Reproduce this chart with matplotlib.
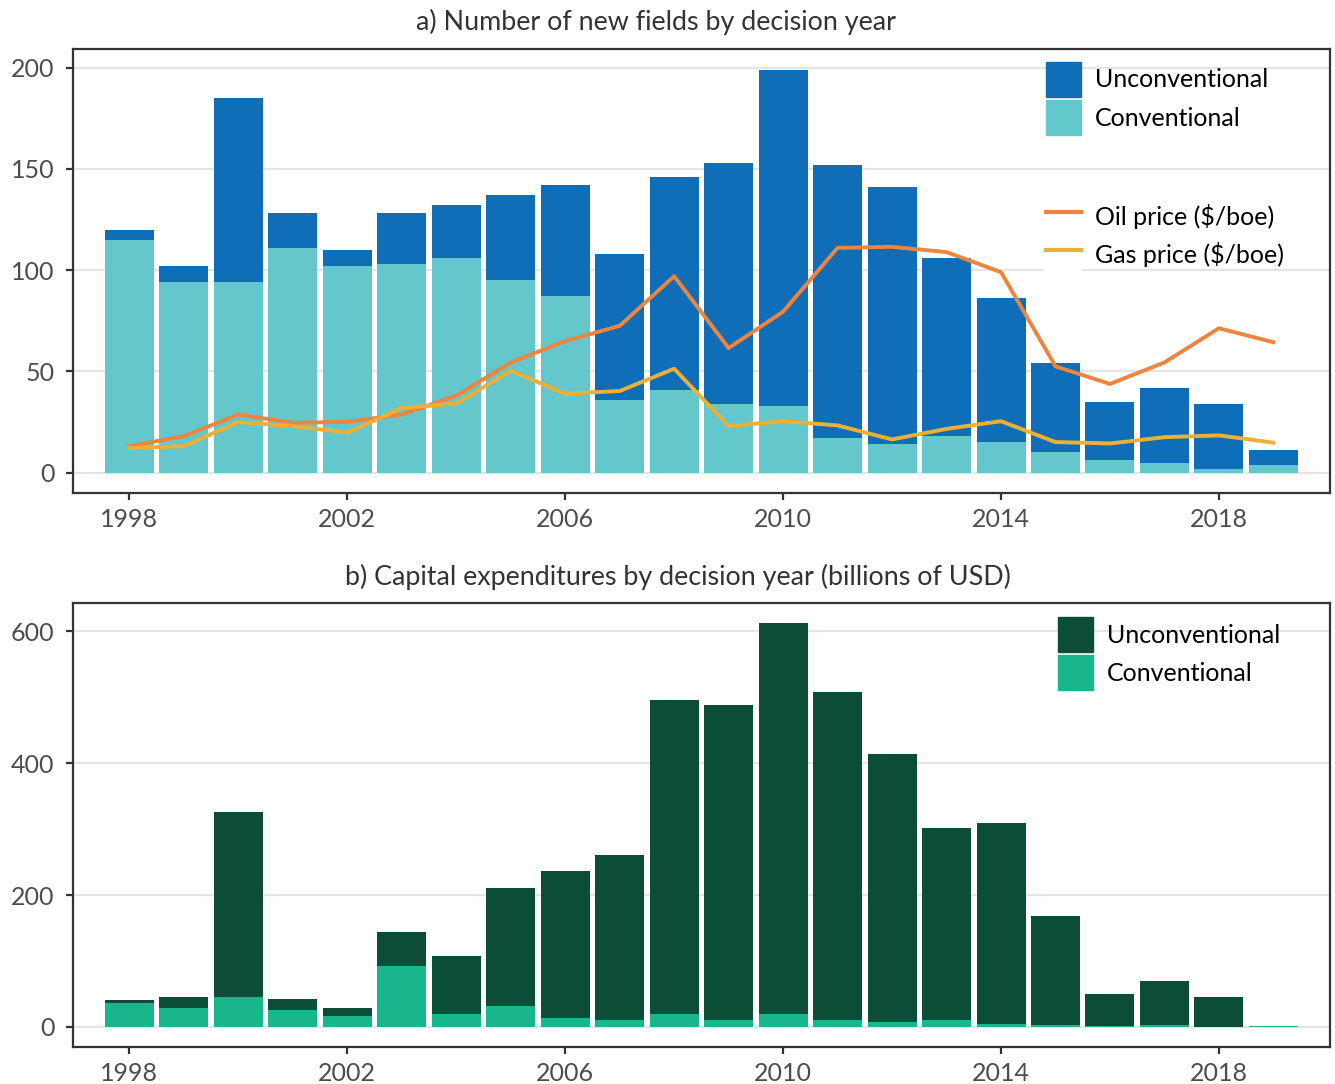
import matplotlib
matplotlib.use("Agg")
import matplotlib.pyplot as plt
from matplotlib.patches import Patch, Rectangle
from matplotlib.lines import Line2D

plt.rcParams['font.family'] = ['Lato', 'DejaVu Sans']

years = [1998, 1999, 2000, 2001, 2002, 2003, 2004, 2005, 2006, 2007, 2008,
         2009, 2010, 2011, 2012, 2013, 2014, 2015, 2016, 2017, 2018, 2019]

# a) number of new fields
fields_conv = [115, 94, 94, 111, 102, 103, 106, 95, 87, 36, 41,
               34, 33, 17, 14, 18, 15, 10, 6, 5, 2, 4]
fields_uncon = [5, 8, 91, 17, 8, 25, 26, 42, 55, 72, 105,
                119, 166, 135, 127, 88, 71, 44, 29, 37, 32, 7]
oil_price = [13.1, 18, 28.7, 24.6, 25.1, 28.7, 38, 54.4, 65, 72.5, 97,
             61.5, 79.5, 111, 111.5, 108.9, 99, 52.5, 43.8, 54.4, 71.3, 64.4]
gas_price = [12.1, 13.1, 24.9, 23, 19.7, 32, 34.1, 50.3, 39, 40.3, 51.3,
             23, 25.4, 23.3, 16.4, 21.6, 25.4, 15.1, 14.4, 17.5, 18.4, 14.8]

# b) capex, billions USD
capex_conv = [37, 29, 46, 26, 17, 93, 20, 32, 14, 11, 20,
              10, 20, 10, 7, 10, 5, 3.5, 2, 3.5, 0.5, 1]
capex_uncon = [4, 17, 280, 17, 12, 51, 88, 178, 223, 250, 476,
               478, 593, 498, 407, 292, 305, 165.5, 48, 66.5, 45.5, 1]

xticks = [1998, 2002, 2006, 2010, 2014, 2018]

c_uncon = '#106EB8'
c_conv = '#63C7CC'
c_oil = '#EE843E'
c_gas = '#EDB035'
c_uncon2 = '#0B4D36'
c_conv2 = '#18B68A'

fig = plt.figure(figsize=(13.35, 10.84), dpi=100)
ax1 = fig.add_axes([0.0545, 0.5455, 0.9418, 0.4093])
ax2 = fig.add_axes([0.0545, 0.0344, 0.9418, 0.4096])

leg_kw = dict(loc='upper left', frameon=False, fontsize=18, handlelength=1.4,
              handleheight=1.78, handletextpad=0.55, labelspacing=0.12,
              borderpad=0, borderaxespad=0)


def style(ax, ylim, yticks):
    ax.set_xlim(1996.96, 2020.04)
    ax.set_ylim(*ylim)
    ax.set_yticks(yticks)
    ax.set_xticks(xticks)
    ax.grid(axis='y', color='#E5E5E5', linewidth=1.6)
    ax.set_axisbelow(True)
    for s in ax.spines.values():
        s.set_color('#333333')
        s.set_linewidth(1.6)
    ax.tick_params(length=5, width=1.6, color='#333333', labelcolor='#4D4D4D',
                   labelsize=18)
    ax.tick_params(axis='x', pad=6)
    ax.tick_params(axis='y', pad=8)


ax1.bar(years, fields_conv, width=0.9, color=c_conv)
ax1.bar(years, fields_uncon, width=0.9, bottom=fields_conv, color=c_uncon)
ax1.plot(years, oil_price, color=c_oil, linewidth=2.8)
ax1.plot(years, gas_price, color=c_gas, linewidth=2.8)
style(ax1, (-9.9, 209.2), [0, 50, 100, 150, 200])
ax1.set_title('a) Number of new fields by decision year', fontsize=19.4,
              color='#333333', pad=14, x=0.464)

leg1 = ax1.legend([Patch(color=c_uncon), Patch(color=c_conv)],
                  ['Unconventional', 'Conventional'],
                  bbox_to_anchor=(0.774, 0.971), **leg_kw)
ax1.add_artist(leg1)
# white key background behind the line keys (hides the gridline there)
ax1.add_patch(Rectangle((0.7725, 0.493), 0.0302, 0.171, transform=ax1.transAxes,
                        facecolor='white', edgecolor='none', zorder=0.7))
ax1.legend([Line2D([], [], color=c_oil, linewidth=3),
            Line2D([], [], color=c_gas, linewidth=3)],
           ['Oil price ($/boe)', 'Gas price ($/boe)'],
           bbox_to_anchor=(0.774, 0.661), **leg_kw)

ax2.bar(years, capex_conv, width=0.9, color=c_conv2)
ax2.bar(years, capex_uncon, width=0.9, bottom=capex_conv, color=c_uncon2)
style(ax2, (-30, 643.5), [0, 200, 400, 600])
ax2.set_title('b) Capital expenditures by decision year (billions of USD)',
              fontsize=19.4, color='#333333', pad=13, x=0.481)
ax2.legend([Patch(color=c_uncon2), Patch(color=c_conv2)],
           ['Unconventional', 'Conventional'],
           bbox_to_anchor=(0.784, 0.968), **leg_kw)

fig.savefig('out.png', dpi=100)
